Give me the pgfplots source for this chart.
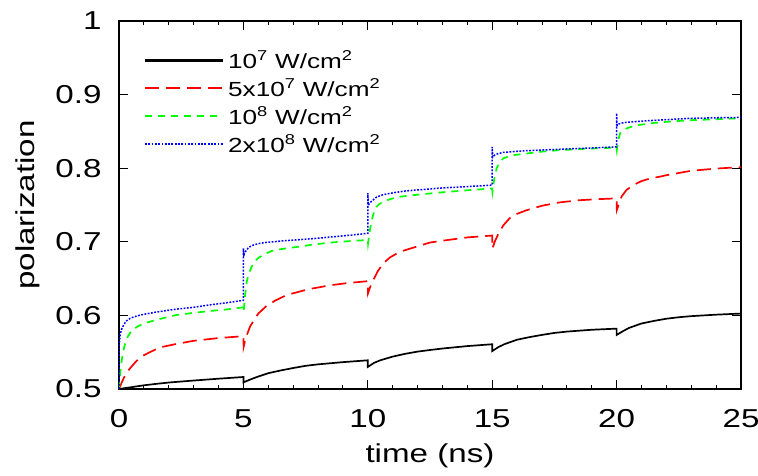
\documentclass[border=0pt]{standalone}
\usepackage{fontspec}
\setmainfont{Liberation Sans}[FakeStretch=1.28]
\usepackage{pgfplots}
\pgfplotsset{compat=1.18}
\definecolor{gpgreen}{RGB}{0,255,0}
\begin{document}
\begin{tikzpicture}
\useasboundingbox (-119bp,-87bp) rectangle (639bp,389bp);
\begin{axis}[
  width=622bp, height=368bp, scale only axis,
  xmin=0, xmax=25, ymin=0.5, ymax=1,
  xtick={0,5,10,15,20,25}, minor x tick num=4,
  ytick={0.5,0.6,0.7,0.8,0.9,1},
  major tick length=9bp, minor tick length=4.5bp,
  tick style={black, line width=0.9bp},
  axis line style={line width=1.4bp},
  ticklabel style={font=\fontsize{26}{29}\selectfont, /pgf/number format/assume math mode=true},
  xticklabel style={yshift=-17bp},
  yticklabel style={xshift=-14bp},
  xlabel={time (ns)}, ylabel={polarization},
  every axis x label/.style={at={(axis description cs:0.5,-0.182)}, anchor=center,
    font=\fontsize{26}{29}\selectfont},
  every axis y label/.style={at={(axis description cs:-0.147,0.5)}, rotate=90, anchor=center,
    font=\fontsize{26}{29}\selectfont},
  legend style={draw=none, fill=none, at={(0.035,0.93)}, anchor=north west,
    font=\fontsize{20.5}{23}\selectfont, row sep=5bp,
    /tikz/every odd column/.append style={column sep=2bp}},
  legend cell align=left,
  legend image code/.code={\draw[line width=2.2bp] (0bp,0bp) -- (78bp,0bp);},
]
% 10^7 W/cm^2
\addplot[color=black, line width=1.7bp] coordinates {
(0,0.500) (0.25,0.5013) (0.5,0.5025) (1,0.505) (1.5,0.507) (2,0.5088) (3,0.5115) (4,0.514) (5,0.5163)
(5,0.509) (5.25,0.5125) (5.5,0.5158) (6,0.5215) (6.5,0.5252) (7,0.5285) (7.5,0.5315) (8,0.5335) (9,0.5365) (10,0.539)
(10,0.530) (10.25,0.5355) (10.5,0.539) (11,0.544) (11.5,0.5478) (12,0.5508) (12.5,0.553) (13,0.555) (14,0.5583) (15,0.5608)
(15,0.5515) (15.25,0.557) (15.5,0.561) (16,0.567) (16.5,0.5705) (17,0.5735) (17.5,0.5762) (18,0.578) (19,0.5805) (20,0.582)
(20,0.5734) (20.25,0.5785) (20.5,0.583) (21,0.589) (21.5,0.5925) (22,0.5955) (22.5,0.5975) (23,0.599) (24,0.601) (25,0.6025)
};
\addlegendentry{10\textsuperscript{7} W/cm\textsuperscript{2}}
% 5x10^7 W/cm^2
\addplot[color=red, line width=1.7bp, dash pattern=on 14bp off 7bp] coordinates {
(0,0.500) (0.1,0.508) (0.2,0.5155) (0.3,0.5215) (0.44,0.528) (0.7,0.538) (0.95,0.545) (1.3,0.551) (1.65,0.5565) (2.2,0.5605) (3,0.5655) (4,0.5692) (5,0.5718)
(5.01,0.5575) (5.1,0.570) (5.27,0.585) (5.45,0.595) (5.6,0.6025) (5.9,0.612) (6.27,0.620) (6.6,0.6255) (6.94,0.6295) (7.6,0.6355) (8.5,0.641) (9.2,0.644) (10,0.6465)
(10.01,0.630) (10.1,0.639) (10.22,0.648) (10.4,0.660) (10.62,0.6707) (10.9,0.679) (11.3,0.6866) (11.96,0.6934) (12.5,0.699) (12.9,0.701) (14,0.706) (15,0.7085)
(15.01,0.691) (15.1,0.700) (15.25,0.711) (15.45,0.7225) (15.7,0.732) (16,0.738) (16.39,0.743) (17,0.749) (17.7,0.7535) (18.5,0.7565) (19.3,0.758) (20,0.759)
(20.01,0.7432) (20.1,0.752) (20.2,0.7615) (20.4,0.7705) (20.67,0.777) (21,0.7825) (21.34,0.786) (21.74,0.7885) (22,0.7905) (23,0.7965) (24,0.7995) (25,0.8015)
};
\addlegendentry{5x10\textsuperscript{7} W/cm\textsuperscript{2}}
% 10^8 W/cm^2
\addplot[color=gpgreen, line width=1.7bp, dash pattern=on 7bp off 6bp] coordinates {
(0,0.500) (0.05,0.522) (0.1,0.537) (0.17,0.551) (0.24,0.561) (0.35,0.571) (0.5,0.579) (0.75,0.585) (1,0.589) (1.5,0.594) (2.3,0.6005) (3,0.6035) (3.66,0.606) (4.3,0.608) (5,0.611)
(5.01,0.605) (5.07,0.628) (5.13,0.645) (5.2,0.655) (5.33,0.666) (5.47,0.674) (5.6,0.678) (5.85,0.6835) (6.14,0.6875) (6.5,0.690) (6.94,0.692) (7.88,0.6966) (8.5,0.699) (9.3,0.701) (10,0.7025)
(10.01,0.698) (10.08,0.715) (10.16,0.7296) (10.29,0.7455) (10.45,0.751) (10.62,0.7545) (10.9,0.758) (11.3,0.7613) (12,0.764) (12.9,0.767) (14,0.770) (15,0.7725)
(15.01,0.768) (15.08,0.785) (15.18,0.800) (15.3,0.808) (15.45,0.8135) (15.8,0.8175) (16.39,0.820) (17,0.8225) (17.7,0.8245) (18.8,0.8265) (20,0.828)
(20.01,0.8247) (20.07,0.838) (20.14,0.8474) (20.25,0.851) (20.4,0.854) (20.65,0.857) (20.94,0.859) (21.5,0.8615) (22,0.863) (22.95,0.8652) (24,0.8665) (25,0.868)
};
\addlegendentry{10\textsuperscript{8} W/cm\textsuperscript{2}}
% 2x10^8 W/cm^2
\addplot[color=blue, line width=1.5bp, dash pattern=on 1.8bp off 1.5bp] coordinates {
(0,0.500) (0.01,0.560) (0.04,0.572) (0.1,0.581) (0.2,0.588) (0.3,0.5925) (0.45,0.596) (0.6,0.598) (0.8,0.600) (1,0.6015) (1.5,0.6045) (2.3,0.6085) (3,0.611) (3.7,0.6145) (4.4,0.6175) (5,0.6205)
(5,0.691) (5.02,0.682) (5.1,0.6875) (5.2,0.692) (5.35,0.695) (5.6,0.6975) (5.87,0.699) (6.5,0.701) (7.3,0.703) (7.88,0.7045) (8.5,0.7065) (9.3,0.709) (10,0.7115)
(10,0.766) (10.02,0.750) (10.1,0.7535) (10.22,0.757) (10.36,0.761) (10.62,0.764) (11,0.7665) (11.5,0.769) (12.2,0.771) (12.9,0.773) (14,0.775) (15,0.777)
(15,0.829) (15.02,0.815) (15.11,0.818) (15.25,0.820) (15.45,0.8215) (16,0.823) (16.39,0.8238) (17.7,0.8257) (19,0.8275) (20,0.829)
(20,0.8746) (20.02,0.858) (20.07,0.860) (20.3,0.862) (20.67,0.8632) (21.74,0.8655) (22.95,0.8677) (24,0.8685) (25,0.869)
};
\addlegendentry{2x10\textsuperscript{8} W/cm\textsuperscript{2}}
\end{axis}
\end{tikzpicture}
\end{document}
